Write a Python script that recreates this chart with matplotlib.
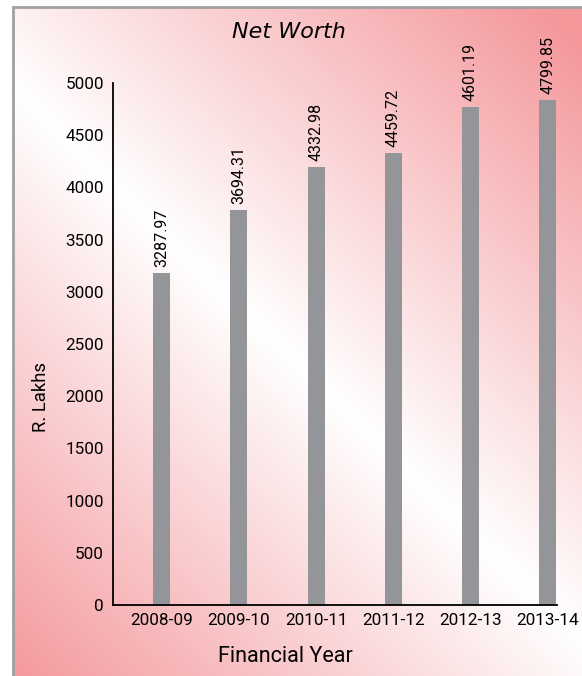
import numpy as np
import matplotlib.pyplot as plt
from matplotlib.colors import LinearSegmentedColormap
from matplotlib.patches import Rectangle

# data
years = ["2008-09", "2009-10", "2010-11", "2011-12", "2012-13", "2013-14"]
bar_heights = [3183, 3784, 4195, 4330, 4770, 4837]  # drawn bar heights
labels = ["3287.97", "3694.31", "4332.98", "4459.72", "4601.19", "4799.85"]  # printed values
yticks = [0, 500, 1000, 1500, 2000, 2500, 3000, 3500, 4000, 4500, 5000]

font = "Roboto"

W, H = 582, 676
fig = plt.figure(figsize=(W / 100, H / 100), dpi=100)

# gradient background: white along a diagonal, pink toward top-right / bottom-left
bg = fig.add_axes([13 / W, 0, 1 - 13 / W, 1 - 7 / H], zorder=0)
xx, yy = np.meshgrid(np.linspace(13, W, 300), np.linspace(7, H, 300))
x0, y0, x1, y1 = 0, 75, 582, 640
dx, dy = x1 - x0, y1 - y0
d = np.abs((xx - x0) * dy - (yy - y0) * dx) / np.hypot(dx, dy)
d = d / 430
cmap = LinearSegmentedColormap.from_list("pk", ["#ffffff", "#f4989c"])
bg.imshow(np.clip(d, 0, 1), cmap=cmap, vmin=0, vmax=1, aspect="auto",
          extent=[13, W, H, 7], interpolation="bilinear")
bg.set_xlim(13, W)
bg.set_ylim(H, 7)
bg.axis("off")
fig.add_artist(Rectangle((13 / W, -0.01), 1, 1 - 7 / H + 0.01, transform=fig.transFigure,
                         fill=False, edgecolor="#a0a0a0", linewidth=2, zorder=1))

ax = fig.add_axes([113 / W, 1 - 605 / H, (557 - 113) / W, (605 - 83) / H], zorder=2)
ax.patch.set_alpha(0)
x = np.arange(len(years))
ax.bar(x, bar_heights, width=0.22, color="#939598")
for xi, h, lab in zip(x, bar_heights, labels):
    ax.annotate(lab, (xi, h), xytext=(0, 4), textcoords="offset points",
                rotation=90, ha="center", va="bottom",
                fontsize=11.5, family=font, annotation_clip=False)

ax.set_xlim(-0.63, 5.12)
ax.set_ylim(0, 5000)
ax.set_yticks(yticks)
ax.set_xticks(x)
ax.set_xticklabels(years)
ax.tick_params(length=0, labelsize=12.3)
ax.tick_params(axis="y", pad=6.5)
ax.tick_params(axis="x", pad=6)
for t in ax.get_xticklabels() + ax.get_yticklabels():
    t.set_family(font)
for s in ["top", "right"]:
    ax.spines[s].set_visible(False)
ax.spines["left"].set_linewidth(1.3)
ax.spines["bottom"].set_linewidth(1.3)

fig.text(289 / W, 1 - 32 / H, "Net Worth", ha="center", va="center",
         fontsize=16, style="italic")
fig.text(285 / W, 1 - 657 / H, "Financial Year", ha="center", va="center",
         fontsize=15.5, family=font)
fig.text(41 / W, 1 - 397 / H, "R. Lakhs", ha="center", va="center",
         rotation=90, fontsize=13.3, family=font)

fig.savefig("out.png", dpi=100)
